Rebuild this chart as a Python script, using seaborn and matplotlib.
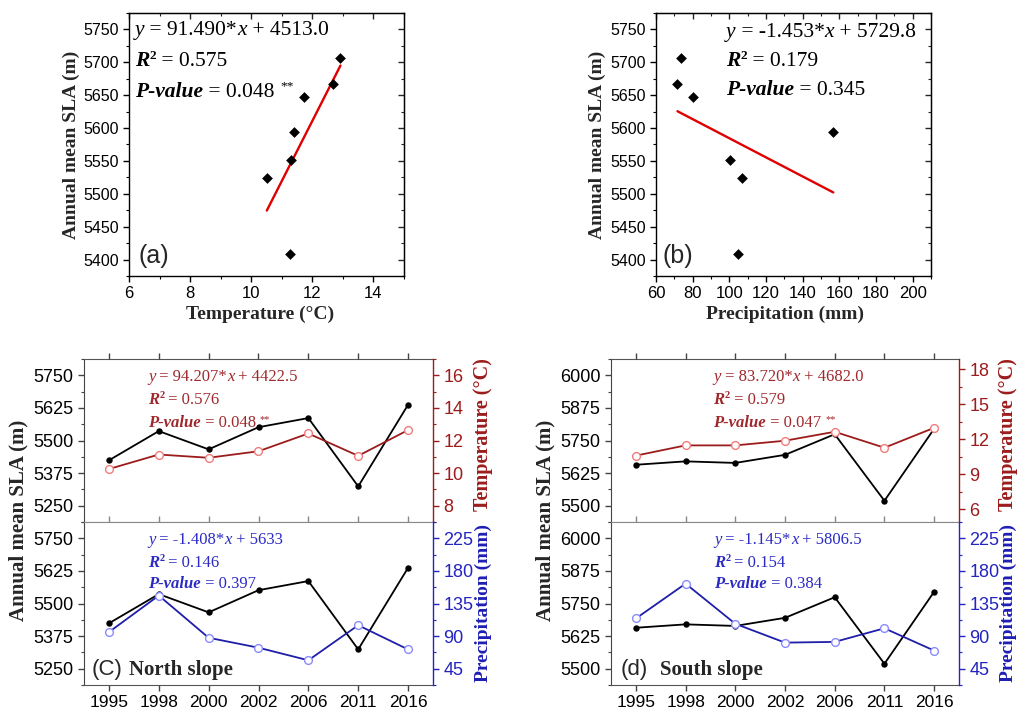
import numpy as np
import pandas as pd
import matplotlib
matplotlib.use("Agg")
import matplotlib.pyplot as plt
import seaborn as sns
from matplotlib.ticker import MultipleLocator

# ---------------- data ----------------
sla_annual = [5706, 5667, 5648, 5594, 5551, 5524, 5408]
temp_annual = [12.92, 12.67, 11.72, 11.41, 11.30, 10.51, 11.28]
prec_annual = [73.5, 71.7, 80.0, 156.7, 100.2, 107.1, 104.9]
fit_temp = (91.490, 4513.0)
fit_prec = (-1.453, 5729.8)

years = ["1995", "1998", "2000", "2002", "2006", "2011", "2016"]
north_sla = [5424, 5536, 5466, 5551, 5586, 5324, 5637]
north_temp = [10.25, 11.14, 10.94, 11.34, 12.43, 11.06, 12.64]
north_prec = [95.5, 146.0, 87.7, 74.0, 56.6, 105.0, 71.6]
south_sla = [5657, 5670, 5664, 5695, 5774, 5519, 5795]
south_temp = [10.60, 11.48, 11.48, 11.88, 12.65, 11.28, 12.99]
south_prec = [114.3, 162.4, 107.0, 81.0, 82.0, 100.8, 70.0]

eq_a = [("y", "i"), (" = 91.490*", "n"), ("x", "i"), (" + 4513.0", "n")]
r2_a = [("R", "bi"), ("2", "^b"), (" = 0.575", "n")]
p_a = [("P-value", "bi"), (" = 0.048 ", "n"), ("**", "^n")]
eq_b = [("y", "i"), (" = -1.453*", "n"), ("x", "i"), (" + 5729.8", "n")]
r2_b = [("R", "bi"), ("2", "^b"), (" = 0.179", "n")]
p_b = [("P-value", "bi"), (" = 0.345", "n")]
eq_ct = [("y", "i"), (" = 94.207*", "n"), ("x", "i"), (" + 4422.5", "n")]
r2_ct = [("R", "bi"), ("2", "^b"), (" = 0.576", "n")]
p_ct = [("P-value", "bi"), (" = 0.048 ", "n"), ("**", "^n")]
eq_cb = [("y", "i"), (" = -1.408*", "n"), ("x", "i"), (" + 5633", "n")]
r2_cb = [("R", "bi"), ("2", "^b"), (" = 0.146", "n")]
p_cb = [("P-value", "bi"), (" = 0.397", "n")]
eq_dt = [("y", "i"), (" = 83.720*", "n"), ("x", "i"), (" + 4682.0", "n")]
r2_dt = [("R", "bi"), ("2", "^b"), (" = 0.579", "n")]
p_dt = [("P-value", "bi"), (" = 0.047 ", "n"), ("**", "^n")]
eq_db = [("y", "i"), (" = -1.145*", "n"), ("x", "i"), (" + 5806.5", "n")]
r2_db = [("R", "bi"), ("2", "^b"), (" = 0.154", "n")]
p_db = [("P-value", "bi"), (" = 0.384", "n")]

# ---------------- style ----------------
sns.set_style("ticks")
plt.rcParams["font.family"] = ["Liberation Sans", "DejaVu Sans"]
SERIF = ["Liberation Serif", "DejaVu Serif"]

TEMP_LINE = "#9C1C1C"
TEMP_MARK = "#F27C7C"
TEMP_TEXT = "#A0282C"
PREC_LINE = "#1E1EA8"
PREC_MARK = "#8A8AFF"
PREC_TEXT = "#2B2BC4"

W, H = 1019, 713
fig = plt.figure(figsize=(W / 100, H / 100), dpi=100)


def axes_px(l, t, r, b):
    return fig.add_axes([l / W, 1 - b / H, (r - l) / W, (b - t) / H])


def rich(ax, x, y, pieces, size, color):
    base = None
    prev = None
    for s, st in pieces:
        sup = st.startswith("^")
        st2 = st.lstrip("^")
        kw = dict(fontsize=size * 0.62 if sup else size, family=SERIF, color=color,
                  fontweight="bold" if "b" in st2 else "normal",
                  fontstyle="italic" if "i" in st2 else "normal",
                  annotation_clip=False, ha="left")
        if base is None:
            t = ax.annotate(s, xy=(x / W, 1 - y / H), xycoords="figure fraction",
                            va="baseline", **kw)
            base = t
        else:
            t = ax.annotate(s, xy=(1, 0), xycoords=(prev, base),
                            xytext=(0, size * 0.45 if sup else 0),
                            textcoords="offset points", va="bottom", **kw)
        prev = t


def ftext(x, y, s, **kw):
    fig.text(x / W, 1 - y / H, s, **kw)


def scatter_panel(box, xvals, fit, xlim, xmaj, xlabel, xl_pos, yl_pos,
                  texts, tx, tbases, letter, lx):
    ax = axes_px(*box)
    df = pd.DataFrame({"x": xvals, "y": sla_annual})
    sns.scatterplot(data=df, x="x", y="y", marker="D", s=30, color="black",
                    linewidth=0, ax=ax, zorder=3)
    xs = np.array([min(xvals), max(xvals)])
    sns.lineplot(x=xs, y=fit[0] * xs + fit[1], color="#E00000", linewidth=1.7, ax=ax)
    ax.set_xlim(*xlim)
    ax.set_ylim(5375, 5775)
    ax.xaxis.set_major_locator(MultipleLocator(xmaj))
    ax.xaxis.set_minor_locator(MultipleLocator(xmaj / 2))
    ax.yaxis.set_major_locator(MultipleLocator(50))
    ax.yaxis.set_minor_locator(MultipleLocator(25))
    ax.set_xlabel("")
    ax.set_ylabel("")
    ax.tick_params(which="both", direction="out", top=False, right=False,
                   colors="black")
    ax.tick_params(axis="x", labelsize=12)
    ax.tick_params(axis="y", labelsize=11.5)
    ax.tick_params(which="major", length=4, width=1)
    ax.tick_params(which="minor", length=2.5, width=0.8)
    for s in ax.spines.values():
        s.set_color("black")
        s.set_linewidth(1.0)
    secx = ax.secondary_xaxis("top")
    secx.xaxis.set_major_locator(MultipleLocator(xmaj))
    secx.xaxis.set_minor_locator(MultipleLocator(xmaj / 2))
    secx.tick_params(axis="x", which="both", direction="in", labeltop=False)
    secx.tick_params(which="major", length=4, width=1)
    secx.tick_params(which="minor", length=2.5, width=0.8)
    secy = ax.secondary_yaxis("right")
    secy.yaxis.set_major_locator(MultipleLocator(50))
    secy.yaxis.set_minor_locator(MultipleLocator(25))
    secy.tick_params(axis="y", which="both", direction="in", labelright=False)
    secy.tick_params(which="major", length=4, width=1)
    secy.tick_params(which="minor", length=2.5, width=0.8)
    for sec in (secx, secy):
        for s in sec.spines.values():
            s.set_color("black")
    ftext(*xl_pos, xlabel, family=SERIF, fontweight="bold", fontsize=14,
          ha="center", va="center")
    ftext(*yl_pos, "Annual mean SLA (m)", family=SERIF, fontweight="bold",
          fontsize=14, ha="center", va="center", rotation=90)
    for pieces, yb in zip(texts, tbases):
        rich(ax, tx, yb, pieces, 15.5, "black")
    ftext(lx, 263, letter, fontsize=18, ha="left", va="baseline")
    return ax


scatter_panel((129, 13, 404, 276), temp_annual, fit_temp, (6, 15), 2,
              "Temperature (°C)", (260, 314), (71, 145),
              [eq_a, r2_a, p_a], 135, [35, 66.5, 97], "(a)", 139)
scatter_panel((656, 13, 931, 276), prec_annual, fit_prec, (60, 210), 20,
              "Precipitation (mm)", (785, 314), (597, 145),
              [eq_b, r2_b, p_b], 726, [37, 66.5, 95], "(b)", 662)


def series_panel(box, sla, other, ylim_l, ylim_r, lmaj, rmaj, rline, rmark,
                 raxis, top_panel, texts, tx, tbases, tcolor):
    ax = axes_px(*box)
    df = pd.DataFrame({"year": years, "sla": sla, "other": other})
    sns.pointplot(data=df, x="year", y="sla", color="black", markers="o",
                  linestyles="-", errorbar=None, markersize=4.6, linewidth=1.3,
                  markeredgewidth=0, ax=ax)
    tw = ax.twinx()
    sns.pointplot(data=df, x="year", y="other", color=rline, markers="o",
                  linestyles="-", errorbar=None, markersize=5.6, linewidth=1.3,
                  markerfacecolor="white", markeredgecolor=rmark,
                  markeredgewidth=1.0, ax=tw)
    ax.set_xlim(-0.5, 6.5)
    ax.set_ylim(*ylim_l)
    tw.set_ylim(*ylim_r)
    for a in (ax, tw):
        a.set_xlabel("")
        a.set_ylabel("")
    ax.yaxis.set_major_locator(MultipleLocator(lmaj))
    ax.yaxis.set_minor_locator(MultipleLocator(lmaj / 2))
    tw.yaxis.set_major_locator(MultipleLocator(rmaj))
    tw.yaxis.set_minor_locator(MultipleLocator(rmaj / 2))
    ax.tick_params(axis="y", which="both", direction="out", left=True, right=False,
                   colors="black", labelsize=13)
    ax.tick_params(axis="y", which="major", length=4, width=1, color="#444444")
    ax.tick_params(axis="y", which="minor", length=2.5, width=0.8, color="#444444")
    tw.tick_params(axis="y", which="both", direction="out", colors=raxis,
                   labelsize=13)
    tw.tick_params(axis="y", which="major", length=4, width=1)
    tw.tick_params(axis="y", which="minor", length=2.5, width=0.8)
    if top_panel:
        ax.tick_params(axis="x", which="both", direction="inout", bottom=True,
                       top=False, labelbottom=False, length=8, width=1,
                       color="#888888")
        tw.xaxis.set_visible(True)
        tw.tick_params(axis="x", which="both", direction="out", top=True,
                       bottom=False, labeltop=False, labelbottom=False,
                       length=4, width=1, color="#444444")
    else:
        ax.tick_params(axis="x", which="both", direction="out", bottom=True,
                       top=False, labelbottom=True, length=4, width=1,
                       color="#444444", labelcolor="black", labelsize=12.5)
    ax.spines["right"].set_visible(False)
    ax.spines["left"].set_color("#444444")
    ax.spines["top"].set_color("#888888" if not top_panel else "#555555")
    ax.spines["bottom"].set_color("#888888" if top_panel else "#555555")
    for s in ("left", "top", "bottom"):
        tw.spines[s].set_visible(False)
    tw.spines["right"].set_color(raxis)
    tw.spines["right"].set_linewidth(1.0)
    for pieces, yb in zip(texts, tbases):
        rich(ax, tx, yb, pieces, 12, tcolor)
    return ax, tw


top_bases = [380.7, 404, 427.3]
bot_bases = [544, 566.7, 587.7]

# (c) North slope
series_panel((84, 359, 433, 522), north_sla, north_temp, (5187.5, 5812.5), (7, 17),
             125, 2, TEMP_LINE, TEMP_MARK, TEMP_LINE, True,
             [eq_ct, r2_ct, p_ct], 148, top_bases, TEMP_TEXT)
series_panel((84, 522, 433, 685), north_sla, north_prec, (5187.5, 5812.5),
             (22.5, 247.5), 125, 45, PREC_LINE, PREC_MARK, "#2424C0", False,
             [eq_cb, r2_cb, p_cb], 148, bot_bases, PREC_TEXT)
# (d) South slope
series_panel((611, 359, 959, 522), south_sla, south_temp, (5437.5, 6062.5), (4.9, 18.9),
             125, 3, TEMP_LINE, TEMP_MARK, TEMP_LINE, True,
             [eq_dt, r2_dt, p_dt], 713.5, top_bases, TEMP_TEXT)
series_panel((611, 522, 959, 685), south_sla, south_prec, (5437.5, 6062.5),
             (22.5, 247.5), 125, 45, PREC_LINE, PREC_MARK, "#2424C0", False,
             [eq_db, r2_db, p_db], 714, bot_bases, PREC_TEXT)

# shared / side labels
for xc in (18, 545):
    ftext(xc, 520, "Annual mean SLA (m)", family=SERIF, fontweight="bold",
          fontsize=15, ha="center", va="center", rotation=90)
for xc in (483, 1008):
    ftext(xc, 435, "Temperature (°C)", family=SERIF, fontweight="bold",
          fontsize=14.5, ha="center", va="center", rotation=90, color=TEMP_LINE)
    ftext(xc, 603, "Precipitation (mm)", family=SERIF, fontweight="bold",
          fontsize=14, ha="center", va="center", rotation=90, color="#1E1EB4")

ftext(92, 675, "(C)", fontsize=16, ha="left", va="baseline")
ftext(129, 675, "North slope", family=SERIF, fontweight="bold", fontsize=15,
      ha="left", va="baseline")
ftext(621, 675, "(d)", fontsize=16, ha="left", va="baseline")
ftext(660, 675, "South slope", family=SERIF, fontweight="bold", fontsize=15,
      ha="left", va="baseline")

fig.savefig("out.png", dpi=100)
